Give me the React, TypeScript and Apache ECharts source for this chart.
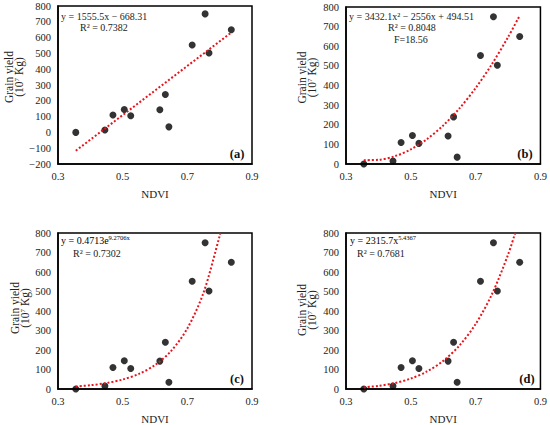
import React, { useEffect, useRef } from "react";
import * as echarts from "echarts";

const ndvi = [0.355, 0.445, 0.47, 0.505, 0.525, 0.615, 0.632, 0.643, 0.715, 0.755, 0.767, 0.836];
const grainYield = [0, 15, 110, 145, 105, 143, 240, 35, 553, 750, 503, 650];

const trendXA = [0.355, 0.836];
const trendYA = [-116.1, 632.1];
const trendXB = [0.355, 0.4, 0.45, 0.5, 0.55, 0.6, 0.65, 0.7, 0.75, 0.8, 0.836];
const trendYB = [19.6, 21.2, 39.3, 74.5, 126.9, 196.5, 283.2, 387.0, 508.1, 646.2, 756.4];
const trendXC = [0.355, 0.4, 0.45, 0.5, 0.55, 0.6, 0.65, 0.7, 0.75, 0.8, 0.802];
const trendYC = [12.7, 19.2, 30.5, 48.6, 77.2, 122.8, 195.2, 310.4, 493.5, 784.7, 800];
const trendXD = [0.355, 0.4, 0.45, 0.5, 0.55, 0.6, 0.65, 0.7, 0.75, 0.8, 0.822];
const trendYD = [8.3, 15.9, 30.2, 53.5, 89.8, 144.1, 222.6, 333.1, 484.6, 688.4, 800];

const xTicks = [0.3, 0.9, 0.2];
const yRangeA = [-200, 800, 100];
const yRangeOther = [0, 800, 100];

const panelLabels = ["(a)", "(b)", "(c)", "(d)"];

const FONT = "'Liberation Serif', 'Times New Roman', serif";

export default function App() {
  const ref = useRef<HTMLDivElement>(null);
  useEffect(() => {
    if (!ref.current) return;
    const chart = echarts.init(ref.current, undefined, { renderer: "svg" });
    const grids = [
      { left: 58, top: 6, width: 194, height: 158 },
      { left: 346, top: 7, width: 195, height: 157 },
      { left: 58, top: 233, width: 194, height: 156 },
      { left: 346, top: 233, width: 195, height: 156 },
    ];
    const nameGaps = [25, 29, 28, 29];
    const namePads = [
      [0, 0, 0, 16],
      [0, 0, 0, 16],
      [0, 0, 0, 6],
      [0, 0, 0, 2],
    ];
    const trends = [
      [trendXA, trendYA],
      [trendXB, trendYB],
      [trendXC, trendYC],
      [trendXD, trendYD],
    ];
    const pts = ndvi.map((x, i) => [x, grainYield[i]]);
    const series: any[] = [];
    trends.forEach((t, i) => {
      series.push({
        type: "scatter",
        xAxisIndex: i,
        yAxisIndex: i,
        data: pts,
        symbol: "circle",
        symbolSize: 7,
        itemStyle: { color: "#000" },
        z: 2,
      });
      series.push({
        type: "line",
        xAxisIndex: i,
        yAxisIndex: i,
        data: t[0].map((x, j) => [x, t[1][j]]),
        smooth: i === 0 ? false : 0.3,
        showSymbol: false,
        symbol: "none",
        lineStyle: { color: "#e8141c", width: 2, type: [2, 2] },
        z: 3,
      });
    });
    const richName = {
      a: { fontSize: 11.5, fontFamily: FONT, color: "#222", lineHeight: 10 },
      s: { fontSize: 7, fontFamily: FONT, color: "#222", padding: [0, 0, 5, 0] },
    };
    const xAxes = grids.map((_, i) => ({
      type: "value",
      gridIndex: i,
      min: xTicks[0],
      max: xTicks[1],
      interval: xTicks[2],
      name: "NDVI",
      nameLocation: "middle",
      nameGap: 24,
      nameTextStyle: { fontFamily: FONT, fontSize: 11, color: "#222" },
      axisLine: { onZero: false, lineStyle: { color: "#000", width: 1.5 } },
      axisTick: { show: false },
      splitLine: { show: false },
      axisLabel: {
        fontFamily: FONT,
        fontSize: 10.5,
        color: "#222",
        margin: 7,
        formatter: (v: number) => v.toFixed(1),
      },
    }));
    const yAxes = grids.map((_, i) => {
      const r = i === 0 ? yRangeA : yRangeOther;
      return {
        type: "value",
        gridIndex: i,
        min: r[0],
        max: r[1],
        interval: r[2],
        name: "{a|Grain yield}\n{a|(10}{s|7}{a| Kg)}",
        nameLocation: "middle",
        nameRotate: 90,
        nameGap: nameGaps[i],
        nameTextStyle: {
          rich: richName,
          fontFamily: FONT,
          fontSize: 11.5,
          lineHeight: 10,
          padding: namePads[i],
        },
        axisLine: { lineStyle: { color: "#000", width: 1.5 } },
        axisTick: { show: false },
        splitLine: { show: false },
        axisLabel: {
          fontFamily: FONT,
          fontSize: 10.5,
          color: "#222",
          margin: 7,
          formatter: (v: number) => (v < 0 ? "\u2212" + Math.abs(v) : String(v)),
        },
      };
    });
    const eqStyle = { fontFamily: FONT, fontSize: 10, fill: "#222" };
    const rich = {
      n: { fontFamily: FONT, fontSize: 10, color: "#222" },
      s: { fontFamily: FONT, fontSize: 6.5, color: "#222", padding: [0, 0, 6, 0] },
    };
    const texts: any[] = [
      { type: "text", left: 61, top: 11, style: { ...eqStyle, text: "y = 1555.5x \u2212 668.31" } },
      { type: "text", left: 80, top: 22, style: { ...eqStyle, text: "R\u00B2 = 0.7382" } },
      { type: "text", left: 349, top: 11, style: { ...eqStyle, text: "y = 3432.1x\u00B2 \u2212 2556x + 494.51" } },
      { type: "text", left: 388, top: 22, style: { ...eqStyle, text: "R\u00B2 = 0.8048" } },
      { type: "text", left: 394, top: 34, style: { ...eqStyle, text: "F=18.56" } },
      { type: "text", left: 61, top: 234, style: { text: "{n|y = 0.4713e}{s|9.2706x}", rich } },
      { type: "text", left: 73, top: 248, style: { ...eqStyle, text: "R\u00B2 = 0.7302" } },
      { type: "text", left: 350, top: 234, style: { text: "{n|y = 2315.7x}{s|5.4367}", rich } },
      { type: "text", left: 357, top: 248, style: { ...eqStyle, text: "R\u00B2 = 0.7681" } },
    ];
    const labelPos = [
      [237, 154],
      [525, 154],
      [237, 379],
      [527, 379],
    ];
    labelPos.forEach((p, i) => {
      texts.push({
        type: "text",
        x: p[0],
        y: p[1],
        style: {
          text: panelLabels[i],
          fontFamily: FONT,
          fontSize: 12.5,
          fontWeight: "bold",
          fill: "#111",
          align: "center",
          verticalAlign: "middle",
        },
      });
    });
    chart.setOption({
      animation: false,
      backgroundColor: "#fff",
      grid: grids.map((g) => ({ ...g, show: true, borderColor: "#000", borderWidth: 1.5, backgroundColor: "transparent" })),
      xAxis: xAxes,
      yAxis: yAxes,
      series,
      graphic: texts,
    });
    return () => chart.dispose();
  }, []);
  return (
    <div
      ref={ref}
      style={{ position: "fixed", left: 0, top: 0, width: 550, height: 425, background: "#fff" }}
    />
  );
}
